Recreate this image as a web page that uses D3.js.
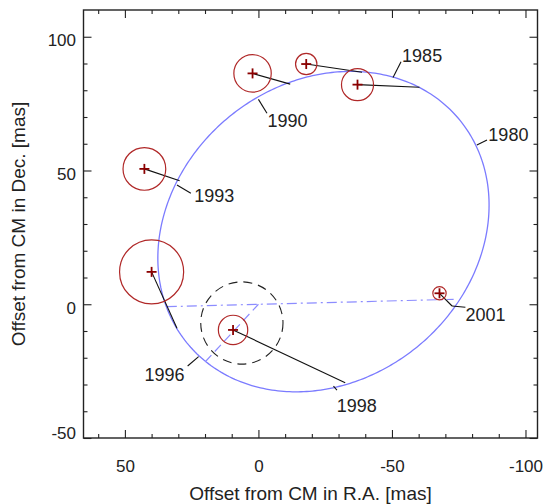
<!DOCTYPE html>
<html>
<head>
<meta charset="utf-8">
<script src="https://cdn.jsdelivr.net/npm/d3@7/dist/d3.min.js"></script>
<style>
  html, body { margin: 0; padding: 0; background: #fff; }
  svg { display: block; font-family: "Liberation Sans", Arial, Helvetica, sans-serif; }
</style>
</head>
<body>
<svg id="chart" width="545" height="504"></svg>
<script>
// Traced positions along the apparent orbit (offset from centre of mass, mas)
const orbitRA  = [37.4, 35.5, 29.5, 21.8, 15.5, 0.0, -11.9, -34.4, -43.1, -50.6, -60.6, -71.8, -81.8, -85.6,
                  -86.2, -84.9, -80.6, -73.1, -63.1, -51.9, -32.5, -14.4, -1.9, 11.8, 22.4, 30.5, 34.9];
const orbitDec = [16.5, 31.5, 46.4, 60.2, 67.6, 76.6, 82.6, 86.9, 86.6, 85.3, 81.3, 71.4, 59.5, 47.7,
                  37.7, 24.0, 11.6, -0.9, -13.4, -22.1, -29.3, -32.7, -31.4, -26.4, -19.6, -9.6, -0.9];

// Measured positions with error radii, and the predicted orbit position for each epoch
const obsEpoch  = ["1985a", "1985b", "1990", "1993", "1996", "1998", "2001"];
const obsRA     = [-17.9, -37.1, 2.2, 42.7, 40.0, 9.5, -67.8];
const obsDec    = [89.8, 82.1, 86.3, 50.6, 12.1, -9.6, 4.1];
const obsErr    = [4.0, 6.0, 7.0, 8.0, 12.0, 5.5, 2.5];
const modelRA   = [-38.8, -60.3, -11.9, 29.5, 30.5, -32.5, -72.5];
const modelDec  = [86.7, 81.1, 82.3, 46.2, -9.0, -29.3, -0.65];

// Epoch labels along the orbit: orbit point, leader end, text anchor point
const labelText      = ["1980", "1985", "1990", "1993", "1996", "1998", "2001"];
const labelOrbitRA   = [-81.8, -50.4, 0.0, 30.5, 22.4, -28.1, -72.5];
const labelOrbitDec  = [59.5, 84.8, 76.6, 44.6, -19.6, -30.6, -0.65];
const labelLeaderRA  = [-85.6, -53.4, -3.2, 25.3, 26.5, -29.4, -77.5];
const labelLeaderDec = [61.4, 90.7, 71.4, 41.5, -23.1, -32.1, -1.1];
const labelPosRA     = [-86.1, -53.8, -3.4, 24.0, 27.7, -29.3, -77.5];
const labelPosDec    = [61.0, 90.7, 66.4, 38.1, -28.7, -40.3, -6.3];

// Line of nodes and periastron direction (both through the origin)
const nodesRA  = [34.3, -73.1];
const nodesDec = [-0.9, 1.85];
const periRA   = [19.9, 0.0];
const periDec  = [-21.5, 0.0];

// Uncertainty region (dashed circle)
const regionRA = 6.2, regionDec = -7.0, regionR = 15.4;

// Axis ticks
const xMajor = [50, 0, -50, -100];
const xMinor = [60, 40, 30, 20, 10, -10, -20, -30, -40, -60, -70, -80, -90];
const yMajor = [100, 50, 0, -50];
const yMinor = [90, 80, 70, 60, 40, 30, 20, 10, -10, -20, -30, -40];

// Least-squares conic through the traced orbit positions, returned as a closed polyline
function fitEllipse(xs, ys, n) {
  const mx = d3.mean(xs), my = d3.mean(ys);
  const M = [[0,0,0,0,0],[0,0,0,0,0],[0,0,0,0,0],[0,0,0,0,0],[0,0,0,0,0]];
  const v = [0,0,0,0,0];
  xs.forEach((x0, i) => {
    const px = x0 - mx, py = ys[i] - my;
    const a = [px * py, py * py, px, py, 1], b = -px * px;
    for (let r = 0; r < 5; r++) {
      v[r] += a[r] * b;
      for (let c = 0; c < 5; c++) M[r][c] += a[r] * a[c];
    }
  });
  // Gaussian elimination
  for (let k = 0; k < 5; k++) {
    let p = k;
    for (let r = k + 1; r < 5; r++) if (Math.abs(M[r][k]) > Math.abs(M[p][k])) p = r;
    [M[k], M[p]] = [M[p], M[k]]; [v[k], v[p]] = [v[p], v[k]];
    for (let r = k + 1; r < 5; r++) {
      const f = M[r][k] / M[k][k];
      for (let c = k; c < 5; c++) M[r][c] -= f * M[k][c];
      v[r] -= f * v[k];
    }
  }
  const s = [0,0,0,0,0];
  for (let k = 4; k >= 0; k--) {
    let t = v[k];
    for (let c = k + 1; c < 5; c++) t -= M[k][c] * s[c];
    s[k] = t / M[k][k];
  }
  const [B, C, D, E, F] = s;
  const det = 4 * C - B * B;
  const xc = (-2 * C * D + B * E) / det;
  const yc = (B * D - 2 * E) / det;
  const fc = xc * xc + B * xc * yc + C * yc * yc + D * xc + E * yc + F;
  const pts = [];
  for (let k = 0; k < n; k++) {
    const th = 2 * Math.PI * k / n, ct = Math.cos(th), st = Math.sin(th);
    const r = Math.sqrt(-fc / (ct * ct + B * ct * st + C * st * st));
    pts.push([mx + xc + r * ct, my + yc + r * st]);
  }
  return pts;
}

const svg = d3.select("#chart");
const L = 83.5, R = 537.5, T = 10, B = 438;

const x = d3.scaleLinear().domain([65.5, -104.5]).range([L, R]);
const y = d3.scaleLinear().domain([-50, 110]).range([B, T]);
const pxPerUnit = Math.abs(x(1) - x(0));

const plot = svg.append("g");

// Orbit
const orbit = fitEllipse(orbitRA, orbitDec, 360);
plot.append("path")
  .attr("d", d3.line().x(d => x(d[0])).y(d => y(d[1])).curve(d3.curveLinearClosed)(orbit))
  .attr("fill", "none").attr("stroke", "#7b7bff").attr("stroke-width", 1.3);

// Line of nodes
plot.append("line")
  .attr("x1", x(nodesRA[0])).attr("y1", y(nodesDec[0]))
  .attr("x2", x(nodesRA[1])).attr("y2", y(nodesDec[1]))
  .attr("stroke", "#8c8cff").attr("stroke-width", 1.2)
  .attr("stroke-dasharray", "10,4,2,4");

// Periastron direction
plot.append("line")
  .attr("x1", x(periRA[0])).attr("y1", y(periDec[0]))
  .attr("x2", x(periRA[1])).attr("y2", y(periDec[1]))
  .attr("stroke", "#8c8cff").attr("stroke-width", 1.2)
  .attr("stroke-dasharray", "9,5");

// Uncertainty region
plot.append("circle")
  .attr("cx", x(regionRA)).attr("cy", y(regionDec)).attr("r", regionR * pxPerUnit)
  .attr("fill", "none").attr("stroke", "#222").attr("stroke-width", 1.1)
  .attr("stroke-dasharray", "9,6");

// Residual lines: measurement to predicted orbit position
plot.selectAll("line.resid").data(obsEpoch).join("line")
  .attr("class", "resid")
  .attr("x1", (d, i) => x(obsRA[i])).attr("y1", (d, i) => y(obsDec[i]))
  .attr("x2", (d, i) => x(modelRA[i])).attr("y2", (d, i) => y(modelDec[i]))
  .attr("stroke", "#111").attr("stroke-width", 1.1);

// Epoch label leaders
plot.selectAll("line.leader").data(labelText).join("line")
  .attr("class", "leader")
  .attr("x1", (d, i) => x(labelOrbitRA[i])).attr("y1", (d, i) => y(labelOrbitDec[i]))
  .attr("x2", (d, i) => x(labelLeaderRA[i])).attr("y2", (d, i) => y(labelLeaderDec[i]))
  .attr("stroke", "#111").attr("stroke-width", 1.1);

// Epoch labels
plot.selectAll("text.epoch").data(labelText).join("text")
  .attr("class", "epoch")
  .attr("x", (d, i) => x(labelPosRA[i])).attr("y", (d, i) => y(labelPosDec[i]))
  .attr("text-anchor", (d, i) => {
    const dx = x(labelLeaderRA[i]) - x(labelOrbitRA[i]);
    const dy = y(labelLeaderDec[i]) - y(labelOrbitDec[i]);
    if (Math.abs(dx) < 0.4 * Math.abs(dy) && dy > 0) return "middle";
    return dx < 0 ? "end" : "start";
  })
  .attr("font-size", 18).attr("fill", "#222")
  .text(d => d);

// Error circles
plot.selectAll("circle.err").data(obsEpoch).join("circle")
  .attr("class", "err")
  .attr("cx", (d, i) => x(obsRA[i])).attr("cy", (d, i) => y(obsDec[i]))
  .attr("r", (d, i) => obsErr[i] * pxPerUnit)
  .attr("fill", "none").attr("stroke", "#b02828").attr("stroke-width", 1.2);

// Measurement crosses
const cross = plot.selectAll("g.cross").data(obsEpoch).join("g")
  .attr("class", "cross")
  .attr("transform", (d, i) => `translate(${x(obsRA[i])},${y(obsDec[i])})`);
cross.append("line").attr("x1", -5).attr("x2", 5).attr("y1", 0).attr("y2", 0);
cross.append("line").attr("x1", 0).attr("x2", 0).attr("y1", -5).attr("y2", 5);
cross.selectAll("line").attr("stroke", "#8b0000").attr("stroke-width", 1.8);

// Axes: frame with inward ticks on all four sides
const axisColor = "#222";
const plain = d => String(d);
function styleAxis(g) {
  g.select(".domain").remove();
  g.selectAll(".tick line").attr("stroke", axisColor).attr("stroke-width", 1.1);
  g.selectAll(".tick text").attr("fill", "#222").attr("font-size", 17)
    .attr("font-family", "Liberation Sans, Arial, sans-serif");
}

svg.append("g").attr("transform", `translate(0,${B})`)
  .call(d3.axisBottom(x).tickValues(xMajor).tickSize(-8).tickPadding(21.5).tickFormat(plain))
  .call(styleAxis);
svg.append("g").attr("transform", `translate(0,${B})`)
  .call(d3.axisBottom(x).tickValues(xMinor).tickSize(-4).tickFormat(""))
  .call(styleAxis);
svg.append("g").attr("transform", `translate(0,${T})`)
  .call(d3.axisTop(x).tickValues(xMajor).tickSize(-8).tickFormat(""))
  .call(styleAxis);
svg.append("g").attr("transform", `translate(0,${T})`)
  .call(d3.axisTop(x).tickValues(xMinor).tickSize(-4).tickFormat(""))
  .call(styleAxis);

const yAxisG = svg.append("g").attr("transform", `translate(${L},0)`)
  .call(d3.axisLeft(y).tickValues(yMajor).tickSize(-8).tickPadding(7.5).tickFormat(plain))
  .call(styleAxis);
// lowest label sits on its tick so it stays above the bottom edge of the frame
yAxisG.selectAll(".tick text").attr("dy", null)
  .attr("y", d => d === y.domain()[0] ? 0 : 9);
svg.append("g").attr("transform", `translate(${L},0)`)
  .call(d3.axisLeft(y).tickValues(yMinor).tickSize(-4).tickFormat(""))
  .call(styleAxis);
svg.append("g").attr("transform", `translate(${R},0)`)
  .call(d3.axisRight(y).tickValues(yMajor).tickSize(-8).tickFormat(""))
  .call(styleAxis);
svg.append("g").attr("transform", `translate(${R},0)`)
  .call(d3.axisRight(y).tickValues(yMinor).tickSize(-4).tickFormat(""))
  .call(styleAxis);

svg.append("rect")
  .attr("x", L).attr("y", T).attr("width", R - L).attr("height", B - T)
  .attr("fill", "none").attr("stroke", axisColor).attr("stroke-width", 1.4);

// Axis titles
svg.append("text")
  .attr("x", (L + R) / 2).attr("y", 500)
  .attr("text-anchor", "middle").attr("font-size", 19).attr("fill", "#222")
  .text("Offset from CM in R.A. [mas]");
svg.append("text")
  .attr("transform", `translate(25,${(T + B) / 2}) rotate(-90)`)
  .attr("text-anchor", "middle").attr("font-size", 19).attr("fill", "#222")
  .text("Offset from CM in Dec. [mas]");
</script>
</body>
</html>
